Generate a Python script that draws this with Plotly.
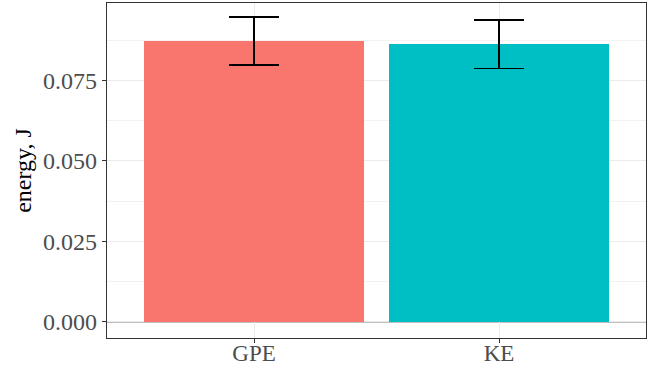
import plotly.graph_objects as go

categories = ["GPE", "KE"]
energy = [0.0872, 0.0864]
err_upper = [0.0074, 0.0073]
err_lower = [0.0075, 0.0077]
colors = ["#F8766D", "#00BFC4"]
y_ticks = [0.0, 0.025, 0.05, 0.075]
y_tick_labels = ["0.000", "0.025", "0.050", "0.075"]

fig = go.Figure()
fig.add_trace(go.Bar(
    x=[0, 1], y=energy, width=0.9, marker=dict(color=colors, line=dict(width=0)),
    error_y=dict(type="data", symmetric=False, array=err_upper, arrayminus=err_lower,
                 color="black", thickness=1.6, width=25),
    showlegend=False,
))
fig.add_shape(type="line", xref="paper", yref="y", x0=0, x1=1, y0=0, y1=0,
              line=dict(color="#BEBEBE", width=2), layer="below")

font_family = "Liberation Serif, DejaVu Serif, serif"
fig.update_layout(
    width=655, height=366,
    margin=dict(l=107, r=9, t=3, b=28),
    paper_bgcolor="white", plot_bgcolor="white",
    font=dict(family=font_family, size=23, color="#4D4D4D"),
    bargap=0,
)
fig.update_xaxes(
    range=[-0.6, 1.6], tickvals=[0, 1], ticktext=categories,
    showgrid=True, gridcolor="#EBEBEB", gridwidth=1,
    ticks="outside", ticklen=4, tickcolor="#333333", tickwidth=1,
    showline=True, linecolor="#333333", linewidth=1.3, mirror=True,
    zeroline=False, tickfont=dict(size=23, color="#4D4D4D"), automargin=False,
    ticklabelstandoff=-10,
)
fig.update_yaxes(
    range=[-0.005, 0.099], tickvals=y_ticks, ticktext=y_tick_labels,
    showgrid=True, gridcolor="#EBEBEB", gridwidth=1,
    minor=dict(dtick=0.0125, tick0=0, showgrid=True, gridcolor="#F2F2F2", gridwidth=1, ticks=""),
    ticks="outside", ticklen=4, tickcolor="#333333", tickwidth=1,
    showline=True, linecolor="#333333", linewidth=1.3, mirror=True,
    zeroline=False, tickfont=dict(size=24, color="#4D4D4D"), automargin=False,
    title=dict(text="energy, J", font=dict(size=24, color="black"), standoff=4),
)
fig.write_html("out.html", config={"displayModeBar": False},
               post_script="document.body.style.margin='0px';")
